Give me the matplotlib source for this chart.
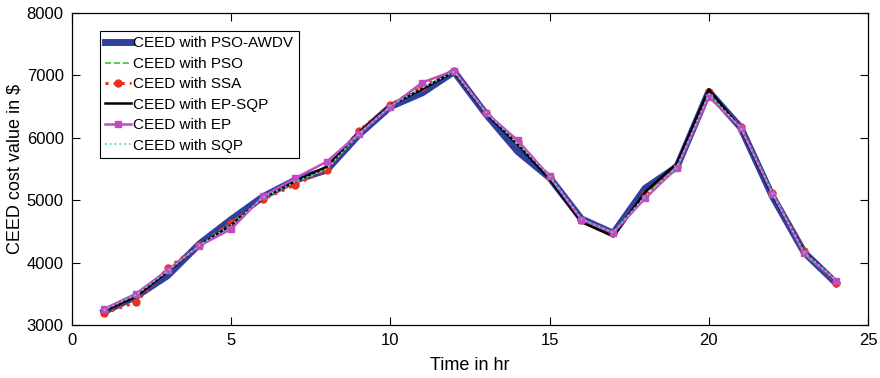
import matplotlib
matplotlib.use("Agg")
import matplotlib.pyplot as plt

plt.rcParams['font.family'] = ['Liberation Sans', 'DejaVu Sans']

hours = list(range(1, 25))
pso_awdv = [3213, 3454, 3790, 4298, 4690, 5056, 5320, 5484, 6045, 6500, 6720, 7060,
            6380, 5780, 5360, 4700, 4470, 5190, 5537, 6740, 6165, 5060, 4160, 3670]
pso      = [3210, 3440, 3840, 4280, 4640, 5030, 5280, 5500, 6060, 6520, 6800, 7060,
            6400, 5880, 5370, 4700, 4480, 5070, 5560, 6730, 6150, 5110, 4130, 3690]
ssa      = [3187, 3363, 3908, 4280, 4640, 5014, 5244, 5484, 6109, 6530, 6820, 7070,
            6390, 5930, 5370, 4690, 4470, 5100, 5540, 6740, 6170, 5110, 4180, 3680]
ep_sqp   = [3220, 3450, 3850, 4280, 4600, 5040, 5300, 5537, 6080, 6520, 6780, 7060,
            6390, 5888, 5340, 4650, 4420, 5130, 5590, 6776, 6150, 5080, 4170, 3700]
ep       = [3250, 3497, 3880, 4270, 4538, 5060, 5350, 5617, 6060, 6500, 6885, 7077,
            6405, 5957, 5380, 4690, 4479, 5030, 5520, 6657, 6165, 5107, 4150, 3710]
sqp      = [3240, 3480, 3860, 4280, 4600, 5040, 5290, 5500, 6050, 6510, 6800, 7060,
            6410, 5900, 5390, 4700, 4480, 5060, 5530, 6700, 6170, 5110, 4160, 3720]

fig = plt.figure(figsize=(8.8, 3.78), dpi=100)
ax = fig.add_axes([72/880, 1-325/378, 796/880, 312/378])

ax.plot(hours, pso_awdv, color='#2e3f9e', lw=5, label='CEED with PSO-AWDV', zorder=2)
ax.plot(hours, pso, color='#3cc43c', lw=1.2, ls='--', label='CEED with PSO', zorder=3)
ax.plot(hours, ssa, color='#e8301e', lw=2.2, ls=':', marker='o', ms=5, label='CEED with SSA', zorder=4)
ax.plot(hours, ep_sqp, color='black', lw=1.8, label='CEED with EP-SQP', zorder=5)
ax.plot(hours, ep, color='#c04cc0', lw=1.8, marker='s', ms=4, label='CEED with EP', zorder=6)
ax.plot(hours, sqp, color='#5fd0d0', lw=1.3, ls=':', label='CEED with SQP', zorder=7)

ax.set_xlim(0, 25)
ax.set_ylim(3000, 8000)
ax.set_xticks([0, 5, 10, 15, 20, 25])
ax.set_yticks([3000, 4000, 5000, 6000, 7000, 8000])
ax.tick_params(direction='in', top=True, right=True, labelsize=12, length=6, width=0.8, pad=6)
ax.set_xlabel('Time in hr', fontsize=13, labelpad=6)
ax.set_ylabel('CEED cost value in $', fontsize=13, labelpad=2)
for s in ax.spines.values():
    s.set_linewidth(0.9)

leg = ax.legend(loc='upper left', bbox_to_anchor=(0.035, 0.942), fontsize=11,
                fancybox=False, edgecolor='black', framealpha=1,
                handlelength=1.7, handletextpad=0.15, borderpad=0.35, borderaxespad=0,
                labelspacing=0.42)
leg.get_frame().set_linewidth(0.8)

fig.savefig('out.png', dpi=100)
